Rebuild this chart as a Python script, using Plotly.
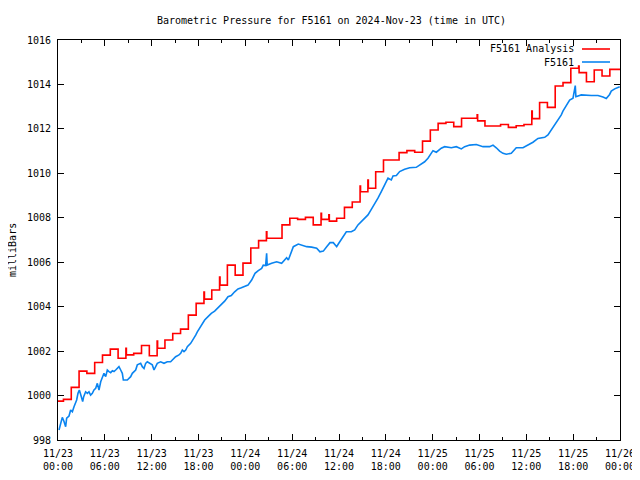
import pandas as pd
import plotly.graph_objects as go

# ---------------- data ----------------
start = "2024-11-23 00:00"
title_text = "Barometric Pressure for F5161 on 2024-Nov-23 (time in UTC)"
y_label = "milliBars"
series_names = ["F5161 Analysis", "F5161"]

# Analysis (hourly, changes ~42 min past each hour), hPa
analysis_mb = [999.75, 999.83, 1000.37, 1001.1, 1001.0, 1001.49, 1001.82, 1002.09, 1001.68, 1001.83,
               1001.9, 1002.25, 1001.79, 1002.13, 1002.5, 1002.79, 1002.99, 1003.62, 1004.15, 1004.34,
               1004.75, 1004.97, 1005.87, 1005.42, 1005.96, 1006.64, 1006.97, 1007.08, 1007.08, 1007.68,
               1007.98, 1007.93, 1008.02, 1007.68, 1007.93, 1007.85, 1007.98, 1008.47, 1008.71, 1009.17,
               1009.33, 1010.07, 1010.6, 1010.6, 1010.93, 1011.02, 1010.95, 1011.45, 1011.95, 1012.25,
               1012.3, 1012.1, 1012.48, 1012.48, 1012.36, 1012.13, 1012.13, 1012.2, 1012.07, 1012.14,
               1012.2, 1012.46, 1013.19, 1012.97, 1013.93, 1014.08, 1014.73, 1014.53, 1014.12, 1014.65,
               1014.38, 1014.68, 1014.68]
analysis_change_offset_h = 0.7
# brief transient values at the start of some analysis hours
spike_hour_index = [9, 13, 19, 21, 27, 34, 35, 39, 40, 54, 61, 67]
spike_mb = [1002.13, 1002.45, 1004.66, 1005.33, 1007.37, 1008.2, 1008.13, 1009.43, 1009.7,
            1012.63, 1012.8, 1014.83]

# Station observations: hours since start, hPa
obs_hours = [0.13, 0.34, 0.55, 0.77, 0.98, 1.11, 1.41, 1.62, 1.84, 2.05, 2.26, 2.39, 2.56, 2.73, 2.86,
             3.03, 3.16, 3.29, 3.54, 3.76, 3.97, 4.18, 4.4, 4.61, 4.83, 5.04, 5.25, 5.47, 5.68, 5.89,
             6.11, 6.32, 6.53, 6.75, 6.96, 7.17, 7.39, 7.6, 7.81, 8.03, 8.24, 8.37, 8.88, 9.31, 9.52,
             9.95, 10.16, 10.59, 10.8, 11.02, 11.23, 11.44, 11.87, 12.08, 12.3, 12.51, 12.72, 13.15,
             13.58, 14.0, 14.43, 14.65, 15.07, 15.5, 15.72, 15.93, 16.14, 16.36, 16.57, 17.0, 17.42,
             17.64, 17.85, 18.06, 18.36, 18.79, 19.22, 19.64, 20.07, 20.5, 20.92, 21.35, 21.78, 22.2,
             22.63, 23.06, 23.49, 23.91, 24.34, 24.81, 25.02, 25.24, 25.66, 26.09, 26.3, 26.6, 26.73,
             26.8, 27.37, 28.01, 28.65, 29.08, 29.29, 29.51, 29.72, 29.94, 30.15, 30.79, 31.43, 31.86,
             32.5, 33.14, 33.56, 33.99, 34.42, 34.85, 35.27, 35.7, 35.91, 36.51, 36.94, 37.58, 38.01,
             38.43, 39.07, 39.71, 40.14, 40.57, 40.99, 41.42, 41.85, 42.28, 42.7, 42.92, 43.35, 43.77,
             44.41, 45.05, 45.9, 46.54, 46.97, 47.4, 47.61, 48.04, 48.47, 49.1, 49.54, 50.39, 51.03,
             51.67, 52.1, 52.74, 53.59, 54.45, 55.3, 55.73, 56.15, 56.58, 57.01, 57.44, 58.07, 58.5,
             58.71, 59.57, 60.21, 60.85, 61.49, 62.35, 62.77, 63.41, 64.05, 64.48, 64.69, 65.12, 65.55,
             65.98, 66.27, 66.35, 67.04, 68.32, 69.18, 69.82, 70.24, 70.67, 70.88, 71.32, 71.96]
obs_mb = [998.45, 998.75, 999.02, 998.83, 998.6, 998.98, 999.08, 999.35, 999.27, 999.5, 999.65, 999.8,
          1000.1, 1000.25, 1000.1, 999.88, 999.73, 999.95, 1000.17, 1000.1, 1000.17, 1000.02, 1000.1,
          1000.25, 1000.33, 1000.55, 1000.25, 1000.62, 1000.85, 1001.0, 1000.85, 1001.15, 1001.08,
          1001.03, 1001.12, 1001.08, 1001.15, 1001.22, 1001.3, 1001.15, 1001.0, 1000.7, 1000.7,
          1000.85, 1001.0, 1001.15, 1001.38, 1001.45, 1001.3, 1001.22, 1001.45, 1001.52, 1001.45,
          1001.38, 1001.15, 1001.3, 1001.45, 1001.52, 1001.45, 1001.52, 1001.52, 1001.6, 1001.75,
          1001.83, 1001.9, 1002.05, 1001.98, 1002.05, 1002.2, 1002.35, 1002.57, 1002.72, 1002.87,
          1003.0, 1003.2, 1003.4, 1003.55, 1003.7, 1003.8, 1003.95, 1004.08, 1004.25, 1004.45, 1004.5,
          1004.67, 1004.8, 1004.85, 1004.9, 1004.97, 1005.2, 1005.35, 1005.5, 1005.62, 1005.72,
          1005.87, 1005.85, 1006.4, 1005.87, 1005.95, 1006.02, 1005.95, 1006.1, 1006.2, 1006.1,
          1006.32, 1006.55, 1006.7, 1006.82, 1006.75, 1006.7, 1006.68, 1006.63, 1006.47, 1006.5,
          1006.7, 1006.88, 1006.88, 1006.7, 1006.82, 1007.15, 1007.37, 1007.37, 1007.45, 1007.68,
          1007.9, 1008.13, 1008.38, 1008.62, 1008.88, 1009.18, 1009.48, 1009.78, 1009.7, 1009.88,
          1009.9, 1010.08, 1010.18, 1010.25, 1010.27, 1010.4, 1010.52, 1010.68, 1010.78, 1011.02,
          1010.95, 1011.13, 1011.2, 1011.15, 1011.2, 1011.1, 1011.2, 1011.27, 1011.3, 1011.2, 1011.2,
          1011.27, 1011.15, 1011.0, 1010.9, 1010.86, 1010.9, 1011.05, 1011.15, 1011.15, 1011.27,
          1011.4, 1011.57, 1011.62, 1011.73, 1012.05, 1012.4, 1012.63, 1012.8, 1013.07, 1013.3,
          1013.38, 1013.95, 1013.45, 1013.53, 1013.5, 1013.5, 1013.43, 1013.37, 1013.55, 1013.7,
          1013.8, 1013.9]

x_tick_hours = [0, 6, 12, 18, 24, 30, 36, 42, 48, 54, 60, 66, 72]
x_tick_labels = ["11/23<br>00:00", "11/23<br>06:00", "11/23<br>12:00", "11/23<br>18:00",
                 "11/24<br>00:00", "11/24<br>06:00", "11/24<br>12:00", "11/24<br>18:00",
                 "11/25<br>00:00", "11/25<br>06:00", "11/25<br>12:00", "11/25<br>18:00",
                 "11/26<br>00:00"]
y_ticks = [998, 1000, 1002, 1004, 1006, 1008, 1010, 1012, 1014, 1016]

# ---------------- build ----------------
t0 = pd.Timestamp(start)
def ts(h):
    return t0 + pd.to_timedelta(h, unit="h")

spikes = dict(zip(spike_hour_index, spike_mb))
a_h, a_v = [0.0], [analysis_mb[0]]
for k in range(1, len(analysis_mb)):
    th = k - 1 + analysis_change_offset_h
    if k in spikes:
        a_h.append(th); a_v.append(spikes[k])
        th += 0.06
    a_h.append(th); a_v.append(analysis_mb[k])
a_h.append(72.0); a_v.append(analysis_mb[-1])

RED = "#ff0000"
BLUE = "#0a84f0"
FONT = "DejaVu Sans Mono"
FS = 10
# the page places the figure 8 px from the window's top-left corner
OFF = 8
W, H = 640 - OFF, 480 - OFF
PL, PR, PT, PB = 58, 620, 40, 440      # plot box in window pixels
PW, PH = PR - PL, PB - PT

fig = go.Figure()
fig.add_trace(go.Scatter(x=[ts(h) for h in a_h], y=a_v, mode="lines", line_shape="hv",
                         line=dict(color=RED, width=1.6), name=series_names[0]))
fig.add_trace(go.Scatter(x=[ts(h) for h in obs_hours], y=obs_mb, mode="lines",
                         line=dict(color=BLUE, width=1.6), name=series_names[1]))

fig.update_layout(
    width=W, height=H,
    margin=dict(l=PL - OFF, r=W - (PR - OFF), t=PT - OFF, b=H - (PB - OFF), autoexpand=False),
    paper_bgcolor="white", plot_bgcolor="white",
    showlegend=False,
    font=dict(family=FONT, size=FS, color="black"),
    title=dict(text=title_text, x=(331.5 - PL) / PW, xref="paper", xanchor="center",
               y=1 - (20 - OFF) / H, yref="container", yanchor="middle",
               font=dict(family=FONT, size=FS, color="black")),
)
fig.update_xaxes(
    range=[ts(0), ts(72)], automargin=False,
    tickvals=[ts(h) for h in x_tick_hours], ticktext=x_tick_labels,
    ticks="inside", ticklen=6, tickcolor="black", tickwidth=1, ticklabelstandoff=4,
    minor=dict(ticks="inside", ticklen=3, dtick=3 * 3600 * 1000, tick0=ts(0), tickcolor="black"),
    showline=True, linecolor="black", linewidth=1, mirror="allticks",
    showgrid=False, zeroline=False, tickangle=0,
    tickfont=dict(family=FONT, size=FS, color="black"),
)
fig.update_yaxes(
    range=[998, 1016], automargin=False, tickvals=y_ticks, ticktext=[str(v) for v in y_ticks],
    ticks="inside", ticklen=6, tickcolor="black", tickwidth=1, ticklabelstandoff=4,
    showline=True, linecolor="black", linewidth=1, mirror="allticks",
    showgrid=False, zeroline=False,
    tickfont=dict(family=FONT, size=FS, color="black"),
)

# y axis label
fig.add_annotation(text=y_label, xref="paper", yref="paper", x=(12 - PL) / PW, y=0.475,
                   textangle=-90, showarrow=False, xanchor="center", yanchor="middle",
                   font=dict(family=FONT, size=FS, color="black"))

# gnuplot-style key (text then sample line)
key_rows = [(series_names[0], RED, 49), (series_names[1], BLUE, 62)]
for name, col, ypx in key_rows:
    yp = 1 - (ypx - PT) / PH
    fig.add_annotation(text=name, xref="paper", yref="paper", x=(576 - PL) / PW, y=yp,
                       xanchor="right", yanchor="middle", showarrow=False,
                       font=dict(family=FONT, size=FS, color="black"))
    fig.add_shape(type="line", xref="paper", yref="paper",
                  x0=(582 - PL) / PW, x1=(610 - PL) / PW, y0=yp, y1=yp,
                  line=dict(color=col, width=1.6))

fig.write_html("out.html")
